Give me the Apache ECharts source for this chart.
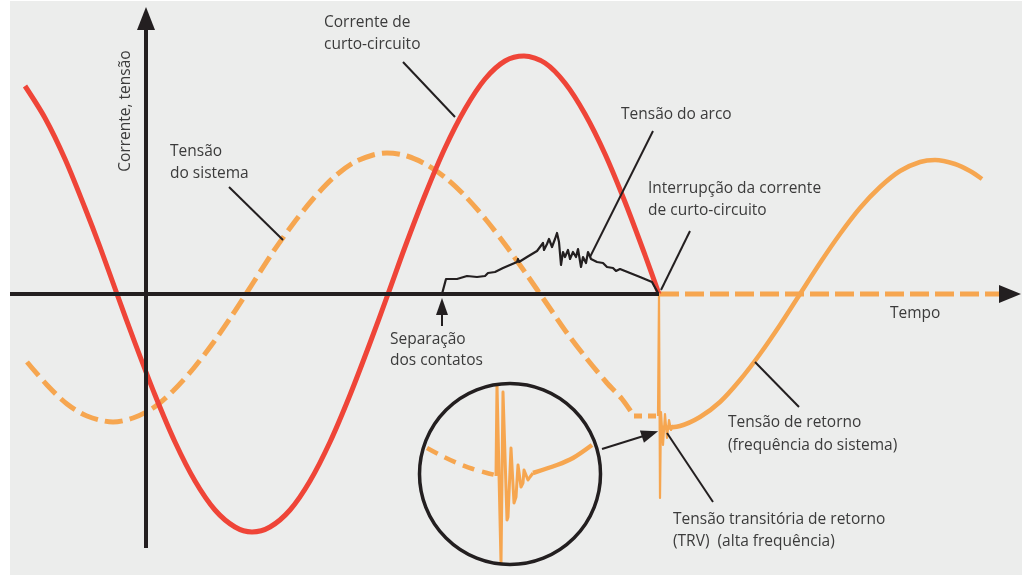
<!DOCTYPE html>
<html><head><meta charset="utf-8">
<script src="https://cdn.jsdelivr.net/npm/echarts@6/dist/echarts.min.js"></script>
<style>html,body{margin:0;padding:0;background:#fff}#c{width:1027px;height:575px}</style>
</head><body><div id="c"></div>
<script>
// ---- data (time units along x, amplitude along y; origin at axes crossing) ----
const currentPts = [[-121,208],[-101,176],[-81,135],[-61,86],[-46,47],[-29,0],[-11,-49],[9,-101],[29,-148],[49,-187],[69,-216],[89,-233],[106,-238],[124,-233],[144,-216],[164,-187],[184,-148],[204,-101],[224,-49],[242,0],[259,47],[279,99],[299,146],[319,185],[339,215],[359,233],[378,238],[399,231],[419,211],[439,180],[459,140],[479,92],[499,39],[513,0]];
const systemVoltagePts = [[-119,-68],[-99,-91],[-79,-110],[-59,-122],[-33,-128],[-13,-124],[7,-114],[27,-97],[47,-75],[67,-49],[87,-20],[107,11],[127,42],[147,70],[167,95],[187,116],[207,131],[227,139],[241,141],[261,138],[281,129],[301,115],[321,96],[341,73],[361,47],[381,19],[401,-10],[421,-39],[441,-65],[461,-89],[476,-105],[488,-122]];
const systemVoltageTail = [[488,-122],[512,-122]];
const arcVoltagePts = [[296,0],[300,15],[311,15],[321,18],[331,17],[339,18],[342,21],[349,22],[357,26],[364,29],[371,32],[372,35],[373,32],[381,37],[391,43],[394,47],[397,51],[398,44],[401,50],[403,55],[406,47],[409,55],[411,61],[413,52],[415,29],[417,42],[419,37],[422,44],[424,35],[427,42],[430,37],[432,45],[435,27],[437,37],[440,31],[442,42],[445,35],[447,37],[451,32],[457,31],[461,27],[467,26],[470,23],[474,25],[484,21],[494,17],[506,12],[512,1]];
const trvPts = [[512,-122],[513,0],[514,-204],[515,-118],[517,-151],[519,-120],[521,-144],[523,-126],[525,-136],[527,-131]];
const returnVoltagePts = [[514,-134],[534,-132],[554,-123],[574,-108],[594,-86],[614,-60],[634,-31],[654,0],[674,31],[694,60],[714,86],[734,107],[754,123],[774,132],[789,134],[809,130],[824,123],[836,115]];
const insetDashedPts = [[281,-154],[294,-161],[311,-169],[327,-175],[341,-179],[349,-181]];
const insetTrvPts = [[350,-182],[351,-91],[353,-93],[355,-269],[356,-268],[357,-98],[359,-99],[361,-226],[362,-223],[365,-154],[367,-156],[368,-209],[370,-203],[372,-171],[373,-173],[375,-193],[377,-189],[378,-176],[380,-178],[382,-186],[384,-183],[387,-179]];
const insetReturnPts = [[387,-179],[411,-171],[427,-164],[446,-151]];
const insetCenter = [[364,-180]];
const axisVPts = [[0,-254],[0,276]];
const axisHPts = [[-136,0],[513,0]];
const axisHAfterPts = [[514,0],[855,0]];
const leaderLines = [
  [[257,232],[309,177]],   // Corrente de curto-circuito
  [[83,107],[137,54]],     // Tensão do sistema
  [[507,163],[444,37]],    // Tensão do arco
  [[544,63],[515,4]],      // Interrupção
  [[609,-68],[653,-113]],  // Tensão de retorno
  [[521,-139],[567,-208]], // TRV
  [[296,-32],[296,-16]],   // Separação shaft
  [[456,-155],[504,-140]]  // inset arrow shaft
];
const arrowHeads = [[0,275.5],[864,0],[296,-12.5],[504,-140]];
const arrowRot = [0,-90,0,-72];
const arrowSize = [[18,23],[18,22],[12,17],[13,17]];

// ---- styles ----
const RED = '#ef4538', ORANGE = '#f6a650', BLACK = '#231f20', TXT = '#3b3b3b';
const DASH = [18,7];
function line(data, color, width, extra) {
  return Object.assign({type:'line', data, symbol:'none', silent:true, smooth:false,
    lineStyle:{color, width, cap:'butt', join:'round'}}, extra || {});
}
const series = [
  line(systemVoltagePts, ORANGE, 5, {smooth:0.3, lineStyle:{color:ORANGE,width:5,type:DASH,cap:'butt'}, z:2}),
  line(systemVoltageTail, ORANGE, 5, {lineStyle:{color:ORANGE,width:5,type:[8,6],cap:'butt'}, z:2}),
  line(axisHAfterPts, ORANGE, 5, {lineStyle:{color:ORANGE,width:5,type:[19,6],cap:'butt'}, z:2}),
  line(currentPts, RED, 5, {smooth:0.3, z:3}),
  line(arcVoltagePts, BLACK, 2.2, {z:4}),
  line(trvPts, ORANGE, 2.2, {z:4}),
  line(returnVoltagePts, ORANGE, 4.5, {smooth:0.3, z:4}),
  line(insetDashedPts, ORANGE, 4.5, {smooth:0.3, lineStyle:{color:ORANGE,width:4.5,type:[12,8],cap:'butt'}, z:4}),
  line(insetTrvPts, ORANGE, 3, {z:4}),
  line(insetReturnPts, ORANGE, 4.5, {smooth:0.3, z:4}),
  line(axisHPts, BLACK, 4, {z:5}),
  line(axisVPts, BLACK, 4, {z:5,
    markLine:{silent:true, symbol:'none', animation:false, label:{show:false},
      lineStyle:{color:BLACK, width:2, type:'solid'},
      emphasis:{disabled:true},
      data: leaderLines.map(s => [{coord:s[0]},{coord:s[1]}])}}),
  {type:'scatter', data: insetCenter, symbol:'circle', symbolSize:181, silent:true, z:5,
    itemStyle:{color:'rgba(0,0,0,0)', borderColor:BLACK, borderWidth:3.5, opacity:1}},
  {type:'scatter', silent:true, z:6, symbol:'triangle',
    data: arrowHeads.map((p,i) => ({value:p, symbolRotate:arrowRot[i], symbolSize:arrowSize[i]})),
    itemStyle:{color:BLACK, opacity:1}}
];

function texts(lines, x, y, lh) {
  return lines.map((t,i) => ({type:'text', x, y: y + i*(lh||22), z:100, silent:true,
    style:{text:t, fill:TXT, font:'15.5px "Open Sans"', align:'left', verticalAlign:'middle'}}));
}
const graphic = [
  {type:'rect', shape:{x:10,y:1,width:1012,height:574}, style:{fill:'#ecedec'}, z:-10, silent:true},
  ...texts(['Corrente de','curto-circuito'], 324, 23),
  ...texts(['Tensão','do sistema'], 170, 152),
  ...texts(['Tensão do arco'], 621, 115),
  ...texts(['Interrupção da corrente','de curto-circuito'], 648, 189),
  ...texts(['Separação','dos contatos'], 390, 340, 21),
  ...texts(['Tempo'], 890, 314),
  ...texts(['Tensão de retorno','(frequência do sistema)'], 728, 423, 23),
  ...texts(['Tensão transitória de retorno','(TRV)  (alta frequência)'], 673, 520, 22),
  {type:'text', x:126, y:111, rotation:Math.PI/2, z:100, silent:true,
    style:{text:'Corrente, tensão', fill:TXT, font:'15.5px "Open Sans"', align:'center', verticalAlign:'middle'}}
];

const chart = echarts.init(document.getElementById('c'), null, {renderer:'canvas'});
chart.setOption({
  animation:false,
  backgroundColor:'#ffffff',
  grid:{left:0,right:0,top:0,bottom:0,containLabel:false},
  xAxis:{type:'value', min:-146, max:881, show:false},
  yAxis:{type:'value', min:-281, max:294, show:false},
  series, graphic
});
</script></body></html>
